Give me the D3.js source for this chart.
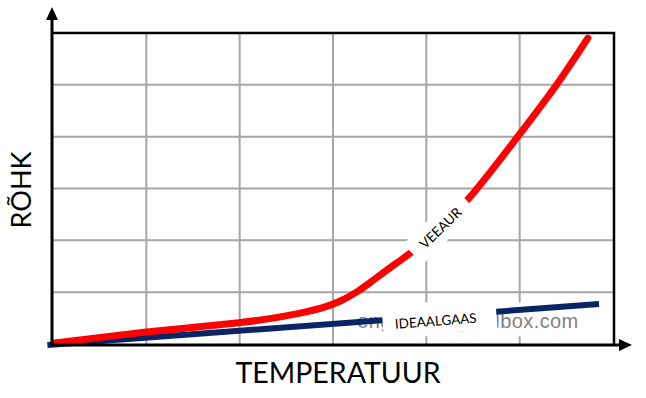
<!DOCTYPE html>
<html>
<head>
<meta charset="utf-8">
<script src="https://cdn.jsdelivr.net/npm/d3@7"></script>
<style>
body{margin:0;background:#fff;}
svg{display:block;}
</style>
</head>
<body>
<div id="chart"></div>
<script>
// grid units (no tick labels in the original)
var gridTicks=[0,1,2,3,4,5,6];
var vapourT=[0.02,1,1.99,2.25,2.61,2.89,3.08,3.26,3.4,3.58,3.75,3.86,4.15,4.45,5.0,5.43,5.73];
var vapourP=[0.02,0.23,0.41,0.47,0.58,0.7,0.83,1.01,1.19,1.43,1.65,1.8,2.25,2.8,4.05,5.09,5.9];
var idealT=[-0.06,5.85];
var idealP=[-0.02,0.77];
var labelNames=["VEEAUR","IDEAALGAAS"];
var labelT=[4.15,4.1];
var labelP=[2.24,0.45];
var labelAngle=[-44,-4.3];

var width=646,height=398;
var plotLeft=53,plotRight=613,plotTop=33,plotBottom=344;
var font="Lato, 'Open Sans', sans-serif";

var svg=d3.select("#chart").append("svg")
	.attr("width",width)
	.attr("height",height);

var x=d3.scaleLinear().domain([0,6]).range([plotLeft,plotRight]);
var y=d3.scaleLinear().domain([0,6]).range([plotBottom,plotTop]);

// grid
var grid=svg.append("g").attr("class","grid");
grid.selectAll("line.v")
	.data(gridTicks.slice(1,-1))
	.enter().append("line")
	.attr("x1",function(d){return x(d);})
	.attr("x2",function(d){return x(d);})
	.attr("y1",y(0)).attr("y2",y(6))
	.style("stroke","#a6a6a6").style("stroke-width",2);
grid.selectAll("line.h")
	.data(gridTicks.slice(1,-1))
	.enter().append("line")
	.attr("x1",x(0)).attr("x2",x(6))
	.attr("y1",function(d){return y(d);})
	.attr("y2",function(d){return y(d);})
	.style("stroke","#a6a6a6").style("stroke-width",2);

// frame top + right
svg.append("path")
	.attr("d","M"+x(0)+","+y(6)+"H"+(x(6)+1)+"V"+y(0))
	.style("fill","none").style("stroke","#000").style("stroke-width",2.5);

// watermark with its white backing
var wm=svg.append("g");
wm.append("rect")
	.attr("x",x(3.15)).attr("y",y(0.8))
	.attr("width",x(5.9)-x(3.15)).attr("height",y(0.15)-y(0.8))
	.style("fill","#fff");
wm.append("text")
	.attr("x",x(3.26)).attr("y",y(0.31))
	.attr("textLength",221)
	.attr("lengthAdjust","spacing")
	.style("font-family","Arial, 'Liberation Sans', sans-serif")
	.style("font-size","20px")
	.style("fill","#7f7f7f")
	.text("engineeringtoolbox.com");

// lines
var vapour=vapourT.map(function(d,i){return [d,vapourP[i]];});
var ideal=idealT.map(function(d,i){return [d,idealP[i]];});
var line=d3.line()
	.curve(d3.curveCatmullRom)
	.x(function(d){return x(d[0]);})
	.y(function(d){return y(d[1]);});

svg.append("path")
	.datum(ideal)
	.attr("d",line)
	.style("fill","none").style("stroke","#0a2466").style("stroke-width",6);
svg.append("path")
	.datum(vapour)
	.attr("d",line)
	.style("fill","none").style("stroke","#ff0000").style("stroke-width",7)
	.style("stroke-linecap","round");

// labels on white boxes
var labels=svg.selectAll("g.lbl")
	.data(labelNames)
	.enter().append("g")
	.attr("class","lbl")
	.attr("transform",function(d,i){return "translate("+x(labelT[i])+","+y(labelP[i])+") rotate("+labelAngle[i]+")";});
labels.append("rect")
	.attr("x",function(d,i){return i==0?-38:-53;})
	.attr("y",function(d,i){return i==0?-14:-17;})
	.attr("width",function(d,i){return i==0?76:114;})
	.attr("height",function(d,i){return i==0?28:30;})
	.style("fill","#fff");
labels.append("text")
	.attr("text-anchor","middle")
	.attr("y",5)
	.style("font-family",font)
	.style("font-size","13.5px")
	.style("fill","#000")
	.text(function(d){return d;});

// axes with arrows
svg.append("line")
	.attr("x1",x(0)-1).attr("x2",x(0)-1)
	.attr("y1",y(0)+2).attr("y2",18)
	.style("stroke","#000").style("stroke-width",3);
svg.append("path")
	.attr("d","M"+(x(0)-1)+",7L"+(x(0)+5)+",20L"+(x(0)-7)+",20Z")
	.style("fill","#000");
svg.append("line")
	.attr("x1",x(0)-2).attr("x2",620)
	.attr("y1",y(0)+1).attr("y2",y(0)+1)
	.style("stroke","#000").style("stroke-width",3);
svg.append("path")
	.attr("d","M632,"+(y(0)+1)+"L619,"+(y(0)-5)+"L619,"+(y(0)+7)+"Z")
	.style("fill","#000");

// axis titles
svg.append("text")
	.attr("x",338).attr("y",383)
	.attr("text-anchor","middle")
	.style("font-family",font)
	.style("font-size","28.5px")
	.text("TEMPERATUUR");
svg.append("text")
	.attr("transform","translate(31,190) rotate(-90)")
	.attr("text-anchor","middle")
	.style("font-family",font)
	.style("font-size","27px")
	.text("RÕHK");
</script>
</body>
</html>
